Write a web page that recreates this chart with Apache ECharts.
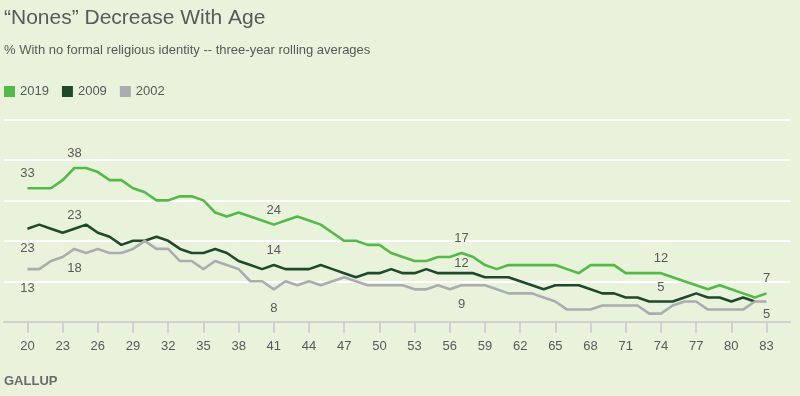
<!DOCTYPE html>
<html>
<head>
<meta charset="utf-8">
<script src="https://cdn.jsdelivr.net/npm/echarts@6/dist/echarts.min.js"></script>
<style>
  html, body { margin: 0; padding: 0; background: #e9f3dc; }
  #main { width: 800px; height: 396px; }
</style>
</head>
<body>
<div id="main"></div>
<script>
// ages on the x axis
var ages = [20, 21, 22, 23, 24, 25, 26, 27, 28, 29,
  30, 31, 32, 33, 34, 35, 36, 37, 38, 39,
  40, 41, 42, 43, 44, 45, 46, 47, 48, 49,
  50, 51, 52, 53, 54, 55, 56, 57, 58, 59,
  60, 61, 62, 63, 64, 65, 66, 67, 68, 69,
  70, 71, 72, 73, 74, 75, 76, 77, 78, 79,
  80, 81, 82, 83];
var tickAges = [20, 23, 26, 29, 32, 35, 38, 41, 44, 47, 50, 53, 56, 59, 62, 65, 68, 71, 74, 77, 80, 83];
var labelAges = [20, 24, 41, 57, 74, 83];

// % with no formal religious identity
var nones2019 = [33, 33, 33, 35, 38, 38, 37, 35, 35, 33,
  32, 30, 30, 31, 31, 30, 27, 26, 27, 26,
  25, 24, 25, 26, 25, 24, 22, 20, 20, 19,
  19, 17, 16, 15, 15, 16, 16, 17, 16, 14,
  13, 14, 14, 14, 14, 14, 13, 12, 14, 14,
  14, 12, 12, 12, 12, 11, 10, 9, 8, 9,
  8, 7, 6, 7];
var nones2009 = [23, 24, 23, 22, 23, 24, 22, 21, 19, 20,
  20, 21, 20, 18, 17, 17, 18, 17, 15, 14,
  13, 14, 13, 13, 13, 14, 13, 12, 11, 12,
  12, 13, 12, 12, 13, 12, 12, 12, 12, 11,
  11, 11, 10, 9, 8, 9, 9, 9, 8, 7,
  7, 6, 6, 5, 5, 5, 6, 7, 6, 6,
  5, 6, 5, null];
var nones2002 = [13, 13, 15, 16, 18, 17, 18, 17, 17, 18,
  20, 18, 18, 15, 15, 13, 15, 14, 13, 10,
  10, 8, 10, 9, 10, 9, 10, 11, 10, 9,
  9, 9, 9, 8, 8, 9, 8, 9, 9, 9,
  8, 7, 7, 7, 6, 5, 3, 3, 3, 4,
  4, 4, 4, 2, 2, 4, 5, 5, 3, 3,
  3, 3, 5, 5];

var chart = echarts.init(document.getElementById('main'));
var FONT = '"Liberation Sans", Arial, sans-serif';
var TXT = '#58595b';

// build points, labels only on selected ages
function build(values, labelPos) {
  var out = [];
  for (var i = 0; i < ages.length; i++) {
    var v = values[i];
    if (v === null || v === undefined) continue;
    var item = { value: [ages[i], v] };
    if (labelAges.indexOf(ages[i]) >= 0 && labelPos[ages[i]]) {
      var p = labelPos[ages[i]];
      item.label = { show: true, position: p[0], distance: p[1] };
    }
    out.push(item);
  }
  return out;
}

function lineSeries(name, color, data) {
  return {
    name: name,
    type: 'line',
    data: data,
    symbol: 'circle',
    symbolSize: 0,
    showSymbol: true,
    showAllSymbol: true,
    itemStyle: { color: color },
    lineStyle: { color: color, width: 2.6 },
    label: { show: false, color: TXT, fontSize: 13, fontFamily: FONT },
    emphasis: { disabled: true },
    silent: true
  };
}

var option = {
  backgroundColor: '#e9f3dc',
  animation: false,
  title: [
    {
      text: '“Nones” Decrease With Age',
      left: 4, top: 8, padding: 0,
      textStyle: { fontSize: 21, fontWeight: 'normal', color: TXT, fontFamily: FONT }
    },
    {
      text: '% With no formal religious identity -- three-year rolling averages',
      left: 4, top: 44, padding: 0,
      textStyle: { fontSize: 13, fontWeight: 'normal', color: TXT, fontFamily: FONT }
    }
  ],
  legend: {
    left: 4, top: 85, padding: 0,
    itemWidth: 11, itemHeight: 11, itemGap: 13,
    icon: 'rect',
    textStyle: { fontSize: 13, color: TXT, fontFamily: FONT },
    data: ['2019', '2009', '2002']
  },
  grid: { left: 4, right: 10, top: 119.5, bottom: 74.3 },
  xAxis: {
    type: 'value',
    min: 18, max: 85,
    axisLine: { lineStyle: { color: '#cfcfd4', width: 2 } },
    axisTick: { customValues: tickAges, length: 11, lineStyle: { color: '#cfcfd4', width: 2 } },
    axisLabel: { customValues: tickAges, margin: 18, fontSize: 13, color: TXT, fontFamily: FONT },
    splitLine: { show: false }
  },
  yAxis: {
    type: 'value',
    min: 0, max: 50, interval: 10,
    axisLine: { show: false },
    axisTick: { show: false },
    axisLabel: { show: false },
    splitLine: { lineStyle: { color: '#ffffff', width: 2 } }
  },
  graphic: [{
    type: 'text',
    left: 4, top: 375,
    style: { text: 'GALLUP', fill: '#6a6a6a', font: 'bold 13px ' + FONT }
  }],
  series: [
    lineSeries('2019', '#55b948', build(nones2019, {
      20: ['top', 8], 24: ['top', 8], 41: ['top', 8], 57: ['top', 8], 74: ['top', 8], 83: ['top', 8]
    })),
    lineSeries('2009', '#1e4a2b', build(nones2009, {
      20: ['bottom', 13], 24: ['top', 7], 41: ['top', 8], 57: ['top', 3], 74: ['top', 8]
    })),
    lineSeries('2002', '#abacb0', build(nones2002, {
      20: ['bottom', 13], 24: ['bottom', 13], 41: ['bottom', 13], 57: ['bottom', 13], 83: ['bottom', 6]
    }))
  ]
};

chart.setOption(option);
</script>
</body>
</html>
